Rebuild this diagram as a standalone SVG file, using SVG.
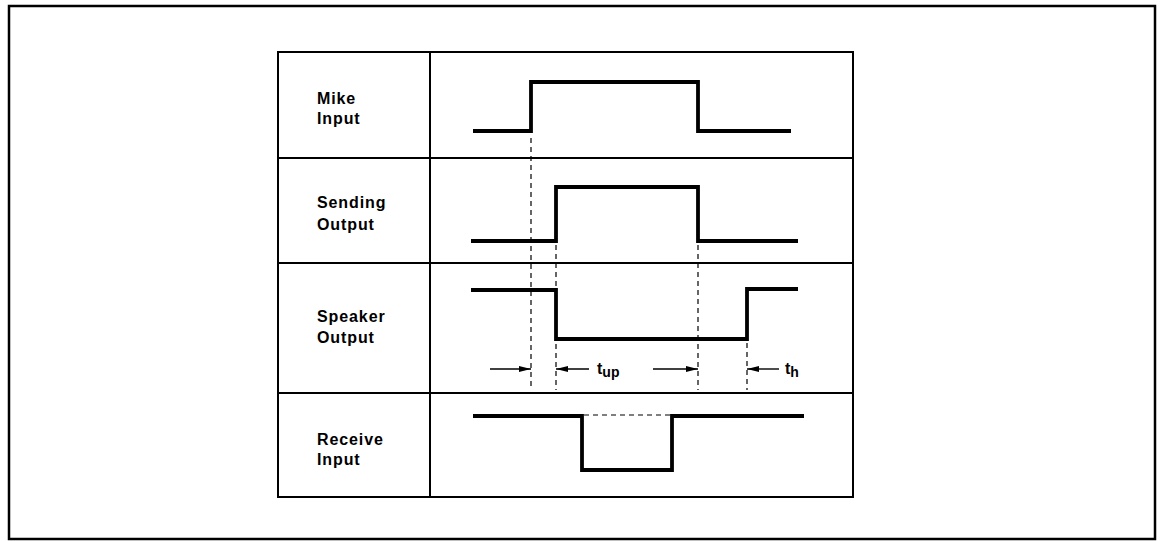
<svg xmlns="http://www.w3.org/2000/svg" width="1160" height="541" viewBox="0 0 1160 541">
<style>
.frame{fill:none;stroke:#000;stroke-width:2.5}
.grid{fill:none;stroke:#000;stroke-width:2}
.wave{fill:none;stroke:#000;stroke-width:3.8;stroke-linejoin:miter}
.dash{fill:none;stroke:#000;stroke-width:1.2;stroke-dasharray:5 4}
.arr{fill:none;stroke:#000;stroke-width:1.4}
.lbl{font-family:"Liberation Sans",Arial,sans-serif;font-weight:bold;font-size:16px;letter-spacing:0.9px;fill:#000}
.t{font-family:"Liberation Sans",Arial,sans-serif;font-weight:bold;font-size:16px;fill:#000}
</style>
<defs>
<marker id="ah" viewBox="0 0 12 6" refX="12" refY="3" markerWidth="12" markerHeight="6" markerUnits="userSpaceOnUse" orient="auto">
<path d="M0,0 L12,3 L0,6 Z" fill="#000"/>
</marker>
</defs>
<rect class="frame" x="9" y="6" width="1146" height="533"/>
<g id="table">
<rect class="grid" x="278" y="52" width="575" height="445"/>
<line class="grid" x1="430" y1="52" x2="430" y2="497"/>
<line class="grid" x1="278" y1="158" x2="853" y2="158"/>
<line class="grid" x1="278" y1="263" x2="853" y2="263"/>
<line class="grid" x1="278" y1="393" x2="853" y2="393"/>
</g>
<g id="mike">
<text class="lbl" x="317" y="104">Mike</text>
<text class="lbl" x="317" y="124">Input</text>
<polyline class="wave" points="473,131 531,131 531,82 698,82 698,131 791,131"/>
</g>
<g id="sending">
<text class="lbl" x="317" y="208">Sending</text>
<text class="lbl" x="317" y="230">Output</text>
<polyline class="wave" points="471,241 556,241 556,187 698,187 698,241 798,241"/>
</g>
<g id="speaker">
<text class="lbl" x="317" y="322">Speaker</text>
<text class="lbl" x="317" y="343">Output</text>
<polyline class="wave" points="471,290 556,290 556,339 747,339 747,289 798,289"/>
</g>
<g id="receive">
<text class="lbl" x="317" y="445">Receive</text>
<text class="lbl" x="317" y="465">Input</text>
<polyline class="wave" points="473,416 582,416 582,470 672,470 672,416 804,416"/>
</g>
<g id="connectors">
<line class="dash" x1="531" y1="138" x2="531" y2="390"/>
<line class="dash" x1="556" y1="245" x2="556" y2="390"/>
<line class="dash" x1="698" y1="245" x2="698" y2="390"/>
<line class="dash" x1="747" y1="343" x2="747" y2="390"/>
<line class="dash" x1="584" y1="415" x2="670" y2="415"/>
<line class="arr" x1="490" y1="369" x2="531" y2="369" marker-end="url(#ah)"/>
<line class="arr" x1="589" y1="369" x2="556" y2="369" marker-end="url(#ah)"/>
<line class="arr" x1="653" y1="369" x2="698" y2="369" marker-end="url(#ah)"/>
<line class="arr" x1="779" y1="369" x2="747" y2="369" marker-end="url(#ah)"/>
</g>
<g id="labels">
<text class="t" x="597" y="374">t<tspan font-size="14" dy="3">up</tspan></text>
<text class="t" x="785" y="374">t<tspan font-size="14" dy="3">h</tspan></text>
</g>
</svg>
